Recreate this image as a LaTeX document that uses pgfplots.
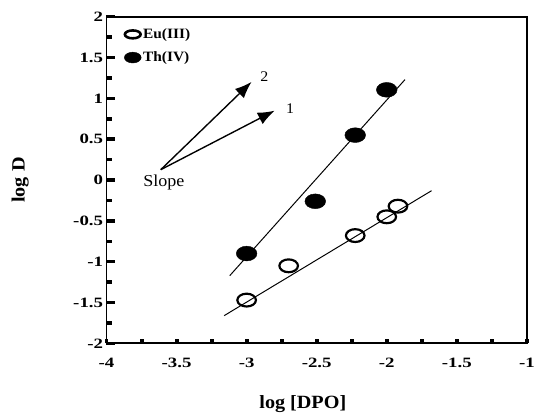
\documentclass[border=0pt]{standalone}
\usepackage{fontspec}
\setmainfont{Liberation Serif}[FakeStretch=1.08]
\newfontfamily\tickfont{Liberation Serif}[FakeStretch=1.32]
\usepackage{pgfplots}
\pgfplotsset{compat=1.18}
\usetikzlibrary{arrows.meta}
\begin{document}
\begin{tikzpicture}
\begin{axis}[
  scale only axis,
  width=426bp, height=331bp,
  xmin=-4, xmax=-1, ymin=-2, ymax=2,
  xtick={-4,-3.5,...,-1}, ytick={-2,-1.5,...,2},
  minor xtick={-3.75,-3.25,...,-1.25},
  minor ytick={-1.75,-1.25,...,1.75},
  xtick pos=bottom, ytick pos=left,
  tick align=inside,
  major tick length=9bp, minor tick length=6bp,
  y tick style={line width=3.5bp, black},
  x tick style={line width=4bp, black, dash pattern=on 4.5bp off 20bp},
  x tick label style={yshift=-11bp},
  axis line style={line width=1.8bp},
  /pgf/number format/assume math mode=true,
  tick label style={font=\tickfont\bfseries\fontsize{14.5}{16}\selectfont},
  xlabel={log [DPO]}, ylabel={log D},
  label style={font=\bfseries\fontsize{19}{21}\selectfont},
  xlabel style={at={(axis description cs:0.467,-0.185)}, anchor=center},
  ylabel style={at={(axis description cs:-0.205,0.5)}, anchor=center},
  legend style={at={(axis description cs:0.042,0.97)}, anchor=north west,
    draw=none, fill=none, font=\bfseries\fontsize{14.5}{16}\selectfont,
    row sep=8bp, inner sep=0pt},
  legend cell align=left,
  clip=false,
]
% fitted lines
\addplot[black, line width=1bp, forget plot] coordinates {(-3.12,-1.17) (-1.87,1.23)};
\addplot[black, line width=1bp, forget plot] coordinates {(-3.16,-1.66) (-1.68,-0.13)};
% Eu(III)
\addplot[only marks, mark=o, mark size=6.5bp, line width=2.2bp, forget plot,
  mark options={xscale=1.45}] coordinates {
  (-3.0,-1.47) (-2.70,-1.05) (-2.225,-0.68) (-2.0,-0.45) (-1.92,-0.32)};
% Th(IV)
\addplot[only marks, mark=*, mark size=7.5bp, black, forget plot,
  mark options={xscale=1.4}] coordinates {
  (-3.0,-0.90) (-2.51,-0.26) (-2.225,0.55) (-2.0,1.105)};
\addlegendimage{only marks, mark=o, mark size=4bp, black, mark options={xscale=2, line width=2.6bp}}
\addlegendentry{\bfseries\fontsize{14.5}{16}\selectfont Eu(III)}
\addlegendimage{only marks, mark=*, mark size=5.5bp, black, mark options={xscale=1.55}}
\addlegendentry{\bfseries\fontsize{14.5}{16}\selectfont Th(IV)}
% slope annotation
\draw[-{Latex[length=17bp,width=13bp]}, line width=1.4bp] (axis cs:-3.613,0.127) -- (axis cs:-2.965,1.202);
\draw[-{Latex[length=17bp,width=13bp]}, line width=1.4bp] (axis cs:-3.613,0.127) -- (axis cs:-2.80,0.85);
\node[font=\fontsize{15}{17}\selectfont] at (axis cs:-2.873,1.27) {2};
\node[font=\fontsize{15}{17}\selectfont] at (axis cs:-2.69,0.88) {1};
\node[font=\fontsize{17}{19}\selectfont] at (axis cs:-3.59,-0.03) {Slope};
\path (axis cs:-4.76,-2.822) rectangle (axis cs:-0.972,2.205);
\end{axis}
\end{tikzpicture}
\end{document}
